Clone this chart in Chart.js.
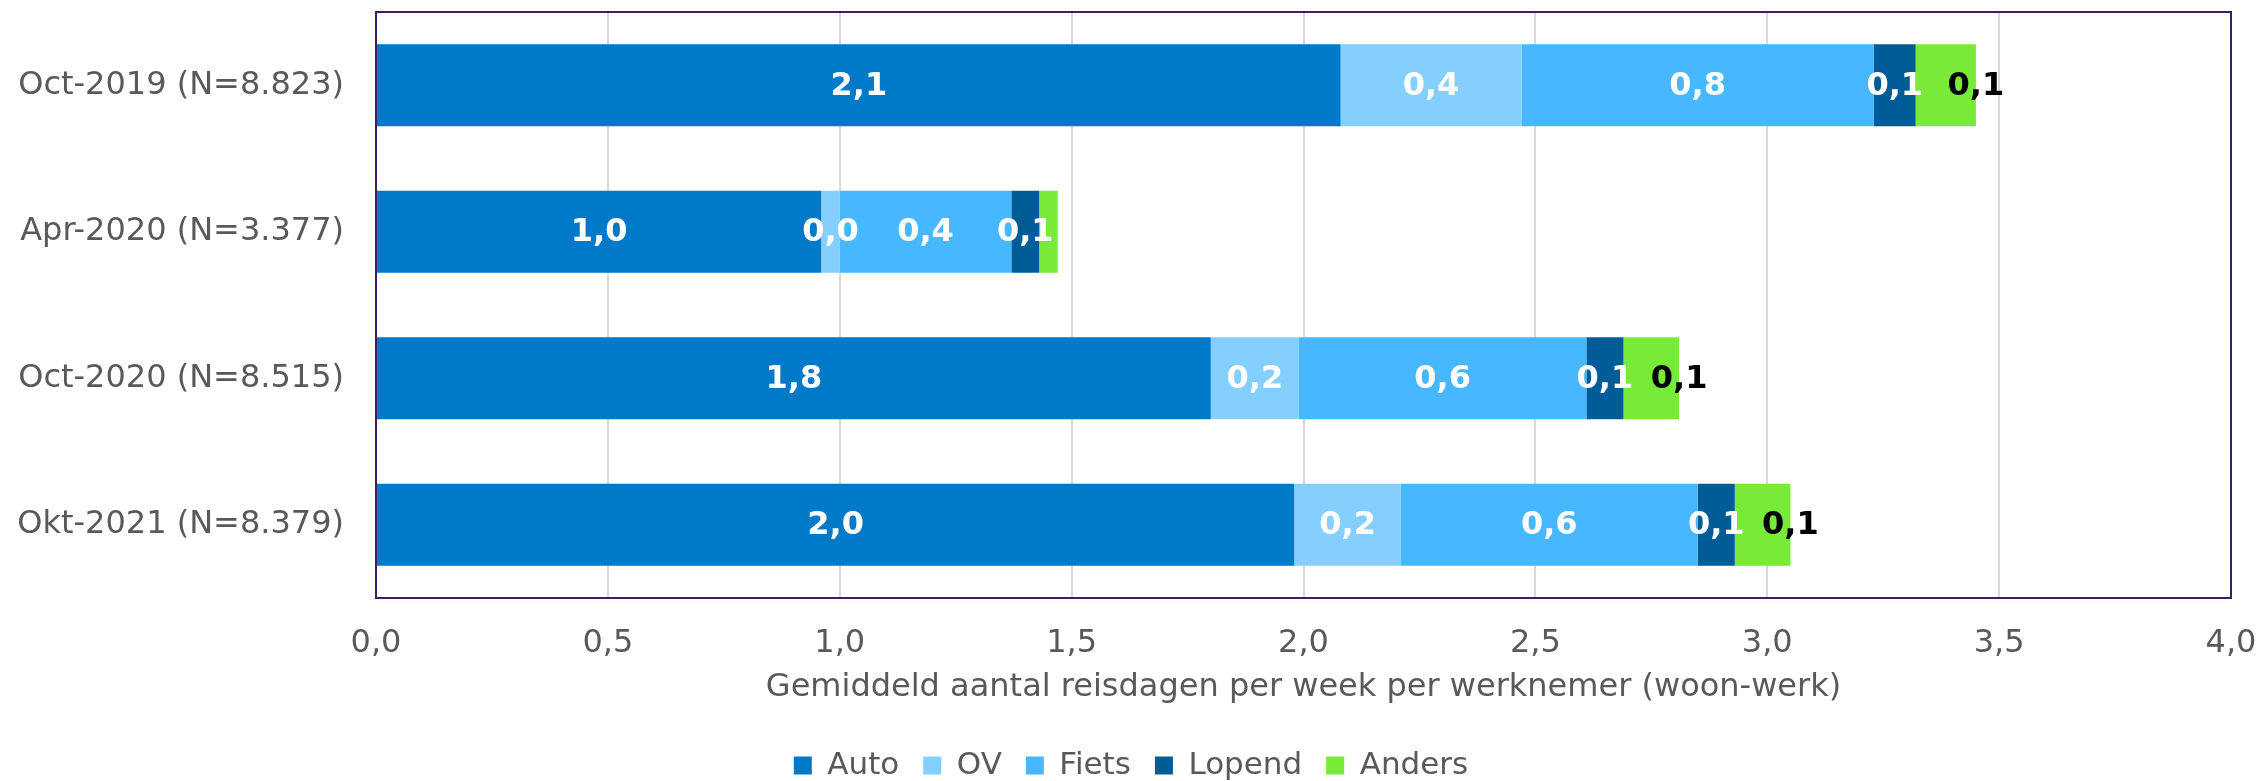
<!DOCTYPE html>
<html>
<head>
<meta charset="utf-8">
<script src="https://cdn.jsdelivr.net/npm/chart.js@4"></script>
<style>
    body { margin: 0; background: #fff; }
    #wrap { width: 2262px; height: 781px; }
</style>
</head>
<body>
<div id="wrap"><canvas id="chartReis"></canvas></div>
<script>
// Categorieën en waarden (reisdagen per week)
const categorieen = ['Oct-2019 (N=8.823)', 'Apr-2020 (N=3.377)', 'Oct-2020 (N=8.515)', 'Okt-2021 (N=8.379)'];
const auto = [2.08, 0.96, 1.80, 1.98];
const ov = [0.39, 0.04, 0.19, 0.23];
const fiets = [0.76, 0.37, 0.62, 0.64];
const lopend = [0.09, 0.06, 0.08, 0.08];
const anders = [0.13, 0.04, 0.12, 0.12];
const xTicks = [0, 0.5, 1, 1.5, 2, 2.5, 3, 3.5, 4];

const kommaGetal = v => v.toFixed(1).replace('.', ',');

Chart.defaults.font.family = '"DejaVu Sans", Verdana, sans-serif';
Chart.defaults.color = '#595959';

// Labels in de balken
const labelPlugin = {
    id: 'balkLabels',
    afterDatasetsDraw(chart) {
        const ctx = chart.ctx;
        ctx.save();
        ctx.font = 'bold 32px "DejaVu Sans", Verdana, sans-serif';
        ctx.textAlign = 'center';
        ctx.textBaseline = 'middle';
        chart.data.datasets.forEach((ds, i) => {
            const meta = chart.getDatasetMeta(i);
            meta.data.forEach((bar, j) => {
                const v = ds.data[j];
                if (i === 4) {
                    if (v < 0.05) return;
                    ctx.fillStyle = '#000000';
                    ctx.fillText(kommaGetal(v), bar.x, bar.y + 1);
                } else {
                    ctx.fillStyle = '#ffffff';
                    ctx.fillText(kommaGetal(v), (bar.x + bar.base) / 2, bar.y + 1);
                }
            });
        });
        ctx.restore();
    }
};

// Rand om het plotgebied
const randPlugin = {
    id: 'plotRand',
    afterDraw(chart) {
        const { left, top, width, height } = chart.chartArea;
        const ctx = chart.ctx;
        ctx.save();
        ctx.strokeStyle = '#3f1d63';
        ctx.lineWidth = 2;
        ctx.strokeRect(left, top, width, height);
        ctx.restore();
    }
};

new Chart(document.getElementById('chartReis').getContext('2d'), {
    type: 'bar',
    data: {
        labels: categorieen,
        datasets: [
            { label: 'Auto', data: auto, backgroundColor: '#0079c8' },
            { label: 'OV', data: ov, backgroundColor: '#85cfff' },
            { label: 'Fiets', data: fiets, backgroundColor: '#47b8ff' },
            { label: 'Lopend', data: lopend, backgroundColor: '#005c96' },
            { label: 'Anders', data: anders, backgroundColor: '#77eb37' }
        ]
    },
    options: {
        indexAxis: 'y',
        responsive: true,
        maintainAspectRatio: false,
        animation: false,
        layout: { padding: { top: 12, right: 0, left: 0, bottom: -10 } },
        datasets: { bar: { barPercentage: 1, categoryPercentage: 0.56 } },
        scales: {
            x: {
                stacked: true,
                min: 0,
                max: 4,
                afterBuildTicks: scale => { scale.ticks = xTicks.map(v => ({ value: v })); },
                ticks: {
                    callback: v => kommaGetal(v),
                    font: { size: 32 },
                    padding: 26,
                    maxRotation: 0
                },
                grid: { color: '#d9d9d9', lineWidth: 2, drawTicks: false },
                border: { display: false },
                title: {
                    display: true,
                    text: 'Gemiddeld aantal reisdagen per week per werknemer (woon-werk)',
                    font: { size: 32 },
                    padding: { top: 4, bottom: 19 }
                },
                afterFit: scale => {
                    scale.height = 128;
                    scale.paddingLeft = 0;
                    scale.paddingRight = 31;
                }
            },
            y: {
                stacked: true,
                ticks: { font: { size: 32 }, padding: 32 },
                grid: { display: false, drawTicks: false },
                border: { display: false },
                afterFit: scale => {
                    scale.width = 376;
                    scale.paddingTop = 0;
                    scale.paddingBottom = 0;
                }
            }
        },
        plugins: {
            legend: {
                position: 'bottom',
                labels: {
                    font: { size: 31 },
                    boxWidth: 18,
                    boxHeight: 18,
                    padding: 24,
                    color: '#595959'
                }
            },
            tooltip: { enabled: false }
        }
    },
    plugins: [labelPlugin, randPlugin]
});
</script>
</body>
</html>
